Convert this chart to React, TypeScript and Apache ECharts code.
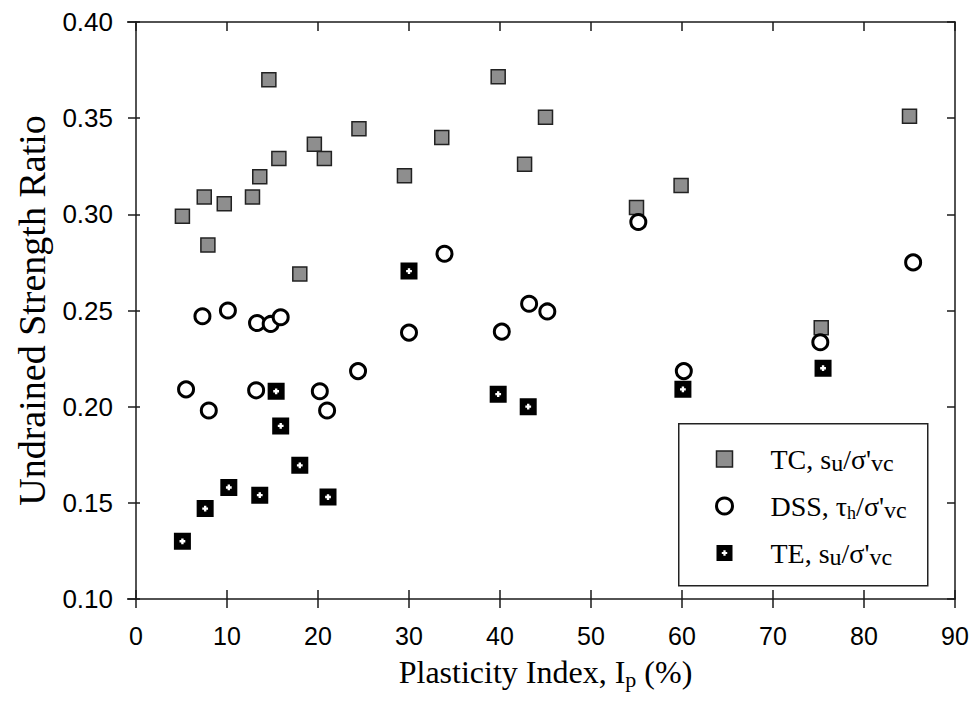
import React, { useEffect, useRef } from "react";
import * as echarts from "echarts";

// ---- data ----
const tcIp = [5.1, 7.5, 7.9, 9.7, 12.8, 13.6, 14.6, 15.7, 18.0, 19.6, 20.7, 24.5, 29.5, 33.6, 39.8, 42.7, 45.0, 55.0, 59.9, 75.3, 85.0];
const tcRatio = [0.299, 0.309, 0.284, 0.3055, 0.309, 0.3195, 0.37, 0.329, 0.269, 0.3365, 0.329, 0.3445, 0.32, 0.34, 0.3715, 0.326, 0.3505, 0.3035, 0.315, 0.241, 0.351];

const dssIp = [5.5, 7.3, 8.0, 10.1, 13.2, 13.3, 14.8, 15.9, 20.2, 21.0, 24.4, 30.0, 33.9, 40.2, 43.2, 45.2, 55.2, 60.2, 75.2, 85.4];
const dssRatio = [0.209, 0.247, 0.198, 0.25, 0.2085, 0.2435, 0.243, 0.2465, 0.208, 0.198, 0.2185, 0.2385, 0.2795, 0.239, 0.2535, 0.2495, 0.296, 0.2185, 0.2335, 0.275];

const teIp = [5.1, 7.6, 10.2, 13.6, 15.4, 15.9, 18.0, 21.1, 30.0, 39.8, 43.1, 60.1, 75.5];
const teRatio = [0.13, 0.147, 0.158, 0.154, 0.208, 0.19, 0.1695, 0.153, 0.2705, 0.2065, 0.2, 0.209, 0.22];

const xTicks = { min: 0, max: 90, interval: 10 };
const yTicks = { min: 0.1, max: 0.4, interval: 0.05 };

const seriesNames = ["TC", "DSS", "TE"];
const legendLabels: Record<string, string> = {
  TC: "TC, s{sub|u}/σ'{sub|vc}",
  DSS: "DSS, τ{subh|h}/σ'{sub|vc}",
  TE: "TE, s{sub|u}/σ'{sub|vc}",
};

const zip = (xs: number[], ys: number[]) => xs.map((x, i) => [x, ys[i]]);

const TC_SYMBOL = "path://M0,0H20V20H0Z";
const TE_SYMBOL =
  "path://M0,0H20V20H0Z M8.6,6.6V8.6H6.6V11.4H8.6V13.4H11.4V11.4H13.4V8.6H11.4V6.6Z";

const SERIF = "Liberation Serif";
const SANS = "Liberation Sans";
const AXIS_COLOR = "#1a1a1a";

export default function App() {
  const ref = useRef<HTMLDivElement>(null);

  useEffect(() => {
    if (!ref.current) return;
    const chart = echarts.init(ref.current, undefined, { renderer: "svg" });

    const lineStyle = { color: AXIS_COLOR, width: 1.5 };
    const xBase = { type: "value" as const, ...xTicks, splitLine: { show: false } };
    const yBase = { type: "value" as const, ...yTicks, splitLine: { show: false } };

    const option: any = {
      animation: false,
      backgroundColor: "#ffffff",
      grid: { left: 136, right: 19, top: 22, bottom: 115, containLabel: false },
      xAxis: [
        {
          ...xBase,
          position: "bottom",
          axisLine: { show: true, onZero: false, lineStyle },
          axisTick: { show: true, inside: false, length: 9, lineStyle },
          axisLabel: { margin: 24, fontSize: 25, fontFamily: SANS, color: "#000" },
          name: "Plasticity Index, I{sub|p} (%)",
          nameLocation: "middle",
          nameGap: 54,
          nameTextStyle: {
            fontFamily: SERIF,
            fontSize: 32,
            color: "#000",
            lineHeight: 37,
            rich: {
              sub: { fontFamily: SERIF, fontSize: 22, lineHeight: 22, verticalAlign: "bottom", color: "#000" },
            },
          },
        },
        {
          ...xBase,
          position: "bottom",
          axisLine: { show: false, onZero: false },
          axisTick: { show: true, inside: true, length: 9, lineStyle },
          axisLabel: { show: false },
        },
        {
          ...xBase,
          position: "top",
          axisLine: { show: true, onZero: false, lineStyle },
          axisTick: { show: true, inside: true, length: 9, lineStyle },
          axisLabel: { show: false },
        },
      ],
      yAxis: [
        {
          ...yBase,
          position: "left",
          axisLine: { show: true, onZero: false, lineStyle },
          axisTick: { show: true, inside: false, length: 8, lineStyle },
          axisLabel: {
            margin: 23,
            fontSize: 26,
            fontFamily: SANS,
            color: "#000",
            formatter: (v: number) => v.toFixed(2),
          },
          name: "Undrained Strength Ratio",
          nameLocation: "middle",
          nameGap: 74,
          nameTextStyle: { fontFamily: SERIF, fontSize: 38, color: "#000" },
        },
        {
          ...yBase,
          position: "left",
          axisLine: { show: false, onZero: false },
          axisTick: { show: true, inside: true, length: 4, lineStyle },
          axisLabel: { show: false },
        },
        {
          ...yBase,
          position: "right",
          axisLine: { show: true, onZero: false, lineStyle },
          axisTick: { show: true, inside: true, length: 8, lineStyle },
          axisLabel: { show: false },
        },
      ],
      legend: {
        orient: "vertical",
        left: 715,
        top: 443,
        padding: 0,
        itemWidth: 82,
        itemHeight: 16,
        itemGap: 15,
        selectedMode: false,
        data: [
          { name: "TC", itemStyle: { borderWidth: 1.5, borderColor: "#222" } },
          { name: "DSS", itemStyle: { borderWidth: 3, borderColor: "#000" } },
          { name: "TE" },
        ],
        formatter: (name: string) => legendLabels[name] ?? name,
        textStyle: {
          fontFamily: SERIF,
          fontSize: 28,
          lineHeight: 32,
          color: "#000",
          rich: {
            sub: { fontFamily: SERIF, fontSize: 24, lineHeight: 22, verticalAlign: "bottom", color: "#000" },
            subh: { fontFamily: SERIF, fontSize: 18, lineHeight: 17, verticalAlign: "bottom", color: "#000" },
          },
        },
      },
      graphic: [
        {
          type: "rect",
          left: 678,
          top: 423,
          z: 0,
          shape: { width: 249, height: 162 },
          style: { fill: "#fff", stroke: "#222", lineWidth: 1.5 },
        },
        {
          type: "line",
          z: 10,
          shape: { x1: 127, y1: 22, x2: 136, y2: 22 },
          style: { stroke: AXIS_COLOR, lineWidth: 1.5 },
        },
        {
          type: "line",
          z: 10,
          shape: { x1: 127, y1: 599, x2: 136, y2: 599 },
          style: { stroke: AXIS_COLOR, lineWidth: 1.5 },
        },
      ],
      series: [
        {
          name: seriesNames[0],
          type: "scatter",
          xAxisIndex: 0,
          yAxisIndex: 0,
          symbol: TC_SYMBOL,
          symbolSize: 14,
          itemStyle: { color: "#8e8e8e", borderColor: "#222", borderWidth: 1.5, opacity: 1 },
          data: zip(tcIp, tcRatio),
          z: 3,
        },
        {
          name: seriesNames[1],
          type: "scatter",
          xAxisIndex: 0,
          yAxisIndex: 0,
          symbol: "circle",
          symbolSize: 15,
          itemStyle: { color: "#ffffff", borderColor: "#000", borderWidth: 3, opacity: 1 },
          data: zip(dssIp, dssRatio),
          z: 4,
        },
        {
          name: seriesNames[2],
          type: "scatter",
          xAxisIndex: 0,
          yAxisIndex: 0,
          symbol: TE_SYMBOL,
          symbolSize: 17,
          itemStyle: { color: "#000", opacity: 1 },
          data: zip(teIp, teRatio),
          z: 5,
        },
      ],
    };

    chart.setOption(option);
    return () => chart.dispose();
  }, []);

  return (
    <div
      ref={ref}
      style={{ position: "fixed", left: 0, top: 0, width: 974, height: 714, background: "#fff" }}
    />
  );
}
